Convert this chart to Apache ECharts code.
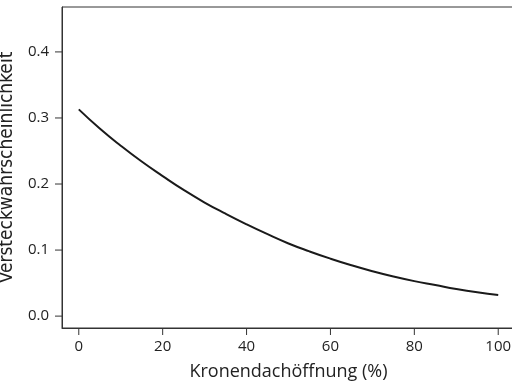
<!DOCTYPE html>
<html>
<head>
<meta charset="utf-8">
<script src="https://cdn.jsdelivr.net/npm/echarts@6/dist/echarts.min.js"></script>
<style>
  html, body { margin: 0; padding: 0; background: #fff; }
  #chart { width: 512px; height: 384px; }
</style>
</head>
<body>
<div id="chart"></div>
<script>
// Kronendachöffnung (%) and the hiding probability
const openness = [0, 5, 10, 15, 20, 25, 30, 35, 40, 45, 50, 55, 60, 65, 70, 75, 80, 85, 90, 95, 100];
const probability = [0.313, 0.284, 0.258, 0.234, 0.212, 0.191, 0.172, 0.155, 0.139, 0.124, 0.110,
  0.098, 0.087, 0.077, 0.068, 0.060, 0.053, 0.047, 0.041, 0.036, 0.032];
const xTicks = [0, 20, 40, 60, 80, 100];
const yTicks = [0.0, 0.1, 0.2, 0.3, 0.4];

const font = "'Open Sans', sans-serif";
const titleFontY = "'DejaVu Sans Condensed', sans-serif";
const axisColor = "#333";

// the axis ticks did not show up on the box edges, so they are drawn as part of the labels
const labelText = { fontFamily: font, fontSize: 15, color: "#222" };

const chart = echarts.init(document.getElementById("chart"));
const option = {
  animation: false,
  grid: {
    left: 62,
    right: -3,
    top: 7,
    bottom: 56,
    outerBoundsMode: "none",
    show: true,
    borderColor: axisColor,
    borderWidth: 1,
    backgroundColor: "transparent"
  },
  xAxis: {
    type: "value",
    min: -4,
    max: 104,
    name: "Kronendachöffnung (%)",
    nameLocation: "middle",
    nameGap: 35,
    nameTextStyle: { fontFamily: font, fontSize: 18, color: "#222" },
    axisLine: { show: true, onZero: false, lineStyle: { color: axisColor, width: 1 } },
    axisTick: { show: false },
    axisLabel: {
      margin: 0,
      customValues: xTicks,
      align: "center",
      formatter: (v) => "{t|}\n{v|" + v + "}",
      rich: {
        t: { width: 1, height: 7, backgroundColor: axisColor },
        v: Object.assign({ lineHeight: 20, padding: [3, 0, 0, 0] }, labelText)
      }
    },
    splitLine: { show: false }
  },
  yAxis: {
    type: "value",
    min: -0.018,
    max: 0.468,
    name: "Versteckwahrscheinlichkeit",
    nameLocation: "middle",
    nameGap: 39,
    nameTextStyle: { fontFamily: titleFontY, fontSize: 19, color: "#222" },
    axisLine: { show: true, onZero: false, lineStyle: { color: axisColor, width: 1 } },
    axisTick: { show: false },
    axisLabel: {
      margin: 0,
      customValues: yTicks,
      formatter: (v) => "{v|" + v.toFixed(1) + "}{t|}",
      rich: {
        v: Object.assign({ padding: [0, 6, 0, 0], verticalAlign: "middle" }, labelText),
        t: { width: 7, height: 1, backgroundColor: axisColor, verticalAlign: "middle" }
      }
    },
    splitLine: { show: false }
  },
  series: [
    {
      type: "line",
      data: openness.map((x, i) => [x, probability[i]]),
      smooth: true,
      symbol: "none",
      lineStyle: { color: "#1a1a1a", width: 2 }
    }
  ]
};
chart.setOption(option);
</script>
</body>
</html>
